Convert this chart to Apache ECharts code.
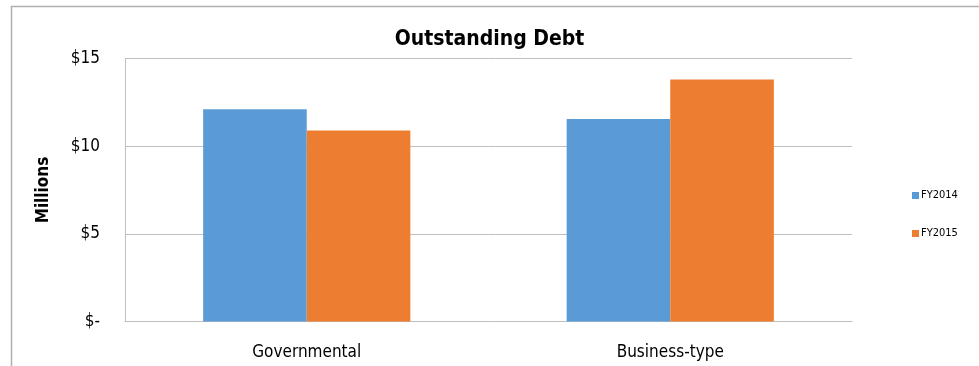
<!DOCTYPE html>
<html>
<head>
<meta charset="utf-8">
<script src="https://cdn.jsdelivr.net/npm/echarts@6/dist/echarts.min.js"></script>
<style>
html,body{margin:0;padding:0;background:#fff;}
#chart{width:979px;height:366px;}
</style>
</head>
<body>
<div id="chart"></div>
<script>
var categories = ['Governmental', 'Business-type'];
var seriesNames = ['FY2014', 'FY2015'];
var fy2014 = [12.1, 11.55];
var fy2015 = [10.9, 13.8];
var yTicks = [0, 5, 10, 15];

var FONT = '"Liberation Sans Narrow", "DejaVu Sans Condensed", "Open Sans", sans-serif';
var chart = echarts.init(document.getElementById('chart'));
chart.setOption({
  animation: false,
  backgroundColor: '#fff',
  graphic: [{
    type: 'rect', left: 9, top: 4,
    shape: { x: 0, y: 0, width: 1000, height: 400 },
    style: { fill: 'none', stroke: '#b0b0b0', lineWidth: 1.5 }
  }],
  title: {
    text: 'Outstanding Debt', left: 'center', top: 24,
    textStyle: { fontFamily: FONT, fontSize: 21, fontWeight: 'bold', color: '#000' }
  },
  legend: {
    orient: 'vertical', left: 907, top: 185, itemGap: 27,
    itemWidth: 7, itemHeight: 7, icon: 'rect',
    textStyle: { fontFamily: FONT, fontSize: 11, color: '#000', padding: [0, 0, 0, -3] },
    data: seriesNames
  },
  grid: { left: 125, right: 127, top: 58.5, bottom: 44.5, containLabel: false },
  xAxis: {
    type: 'category', data: categories,
    axisLine: { show: true, lineStyle: { color: '#bfbfbf', width: 1 } },
    axisTick: { show: false },
    axisLabel: { fontFamily: FONT, fontSize: 17, color: '#000', margin: 23 }
  },
  yAxis: {
    type: 'value', min: 0, max: 15, interval: 5,
    name: 'Millions', nameLocation: 'middle', nameGap: 73, nameRotate: 90,
    nameTextStyle: { fontFamily: FONT, fontSize: 17, fontWeight: 'bold', color: '#000' },
    axisLine: { show: true, lineStyle: { color: '#bfbfbf', width: 1 } },
    axisTick: { show: false },
    splitLine: { lineStyle: { color: '#bfbfbf', width: 1 } },
    axisLabel: {
      fontFamily: FONT, fontSize: 17, color: '#000', margin: 25,
      formatter: function (v) { return yTicks.indexOf(v) >= 0 ? (v === 0 ? '$-' : '$' + v) : ''; }
    }
  },
  series: [
    { name: seriesNames[0], type: 'bar', data: fy2014, barGap: '0%', barCategoryGap: '43%',
      itemStyle: { color: '#5b9bd5' } },
    { name: seriesNames[1], type: 'bar', data: fy2015, barGap: '0%', barCategoryGap: '43%',
      itemStyle: { color: '#ed7d31' } }
  ]
});
</script>
</body>
</html>
